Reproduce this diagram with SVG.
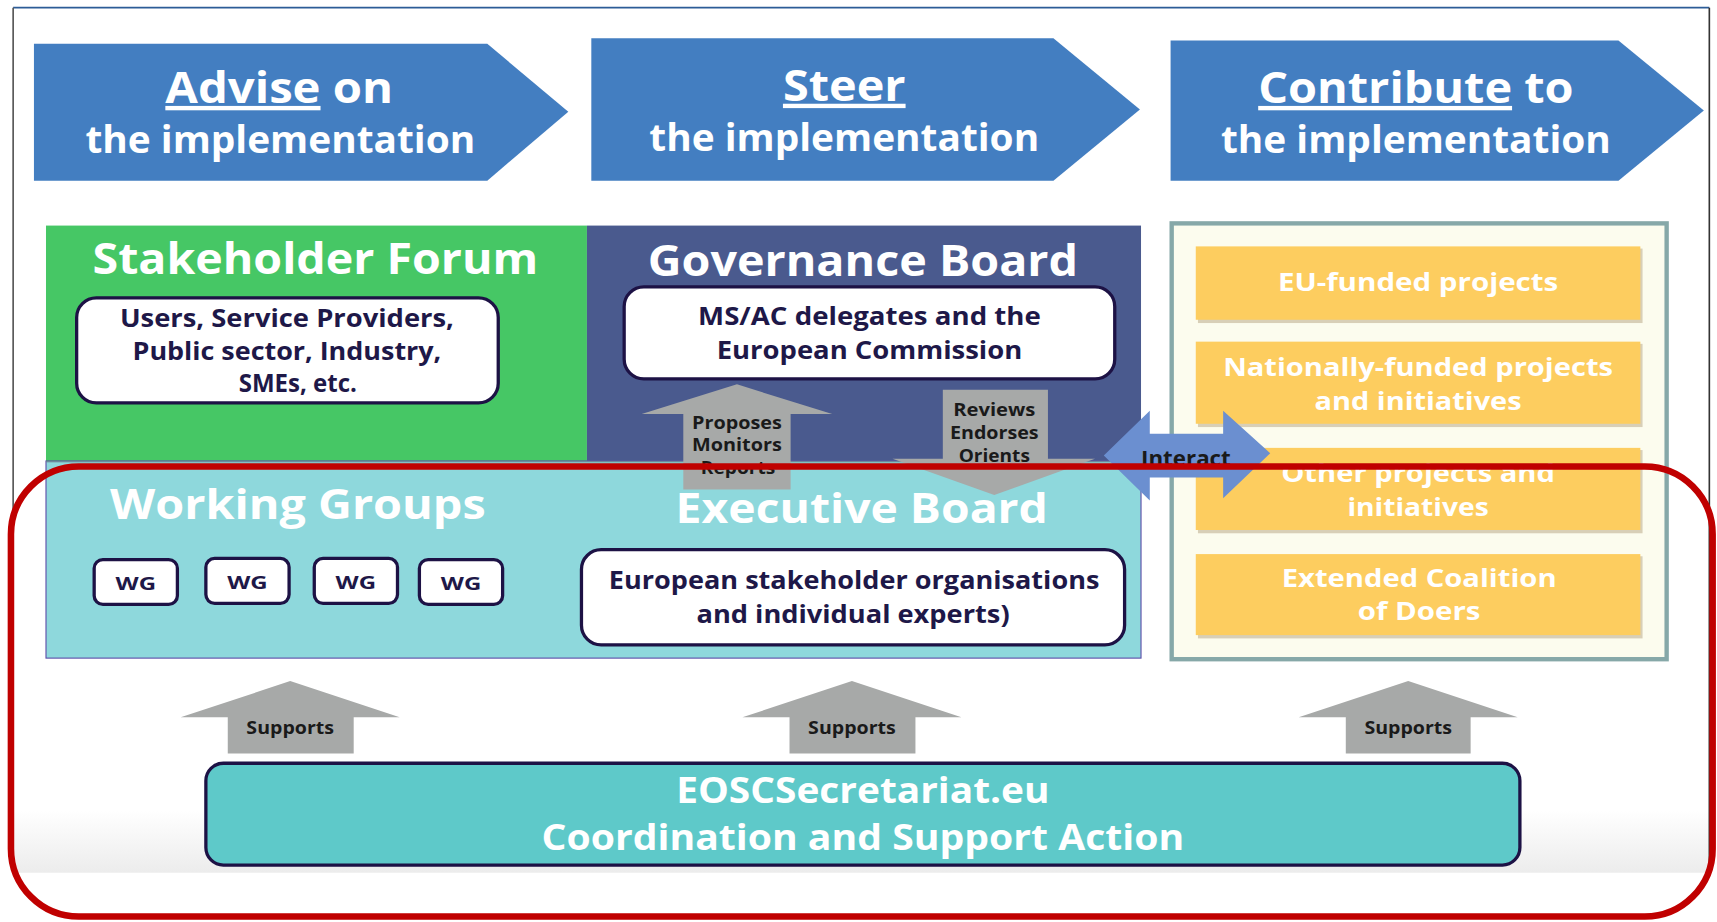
<svg xmlns="http://www.w3.org/2000/svg" width="1717" height="922" viewBox="0 0 1717 922">
<defs>
<style>
.ttl{font-family:"Open Sans","Noto Sans",sans-serif;font-weight:bold;fill:#fff;text-anchor:middle}
.dk{font-family:"Open Sans","Noto Sans",sans-serif;font-weight:bold;fill:#1e1848;text-anchor:middle}
.bk{font-family:"Open Sans","Noto Sans",sans-serif;font-weight:bold;fill:#1a1a1a;text-anchor:middle}
.wbox{fill:#fff;stroke:#1d1245;stroke-width:3}
.ybox{fill:#fdcd5f}
.ysh{fill:#b9a98a;opacity:0.55}
.blue{fill:#437ec1}
.gray{fill:#a7a9a8}
</style>
<linearGradient id="bot" x1="0" y1="0" x2="0" y2="1">
<stop offset="0" stop-color="#ffffff"/>
<stop offset="1" stop-color="#ececec"/>
</linearGradient>
</defs>
<rect width="1717" height="922" fill="#fff"/>
<g transform="scale(1.09503)">
<g id="frame">
<rect x="12" y="740" width="1549" height="57" fill="url(#bot)"/>
<line x1="12" y1="7" x2="1561" y2="7" stroke="#2c5c97" stroke-width="1.5"/>
<line x1="12" y1="7" x2="12" y2="797" stroke="#555" stroke-width="1.5"/>
<line x1="1561" y1="7" x2="1561" y2="797" stroke="#333" stroke-width="1.5"/>
</g>
<g id="advise">
<polygon class="blue" points="31,40 445,40 519,102 445,165 31,165"/>
<text class="ttl" x="255" y="94" font-size="40" textLength="208" lengthAdjust="spacingAndGlyphs"><tspan text-decoration="underline">Advise</tspan> on</text>
<text class="ttl" x="256" y="140" font-size="34" textLength="356" lengthAdjust="spacingAndGlyphs">the implementation</text>
</g>
<g id="steer">
<polygon class="blue" points="540,35 962,35 1041,100 962,165 540,165"/>
<text class="ttl" x="771" y="92" font-size="40" textLength="112" lengthAdjust="spacingAndGlyphs" text-decoration="underline">Steer</text>
<text class="ttl" x="771" y="138" font-size="34" textLength="356" lengthAdjust="spacingAndGlyphs">the implementation</text>
</g>
<g id="contribute">
<polygon class="blue" points="1069,37 1478,37 1556,101 1478,165 1069,165"/>
<text class="ttl" x="1293" y="94" font-size="40" textLength="288" lengthAdjust="spacingAndGlyphs"><tspan text-decoration="underline">Contribute</tspan> to</text>
<text class="ttl" x="1293" y="140" font-size="34" textLength="356" lengthAdjust="spacingAndGlyphs">the implementation</text>
</g>
<g id="stakeholder-forum">
<rect x="42" y="206" width="494" height="216" fill="#46c765"/>
<text class="ttl" x="288" y="250" font-size="40" textLength="407" lengthAdjust="spacingAndGlyphs">Stakeholder Forum</text>
<rect class="wbox" x="70" y="272" width="385" height="96" rx="18"/>
<text class="dk" x="262" y="299" font-size="22" textLength="305" lengthAdjust="spacingAndGlyphs">Users, Service Providers,</text>
<text class="dk" x="262" y="329" font-size="22" textLength="282" lengthAdjust="spacingAndGlyphs">Public sector, Industry,</text>
<text class="dk" x="272" y="358" font-size="22" textLength="108" lengthAdjust="spacingAndGlyphs">SMEs, etc.</text>
</g>
<g id="governance-board">
<rect x="536" y="206" width="506" height="216" fill="#4a5a8e"/>
<text class="ttl" x="788" y="252" font-size="40" textLength="393" lengthAdjust="spacingAndGlyphs">Governance Board</text>
<rect class="wbox" x="570" y="262" width="448" height="84" rx="18"/>
<text class="dk" x="794" y="297" font-size="22" textLength="313" lengthAdjust="spacingAndGlyphs">MS/AC delegates and the</text>
<text class="dk" x="794" y="328" font-size="22" textLength="279" lengthAdjust="spacingAndGlyphs">European Commission</text>
</g>
<g id="working-groups">
<rect x="42" y="421" width="1000" height="180" fill="#8ed8dc" stroke="#5b4aa8" stroke-width="1"/>
<line x1="42" y1="421.5" x2="1042" y2="421.5" stroke="#6a8a8a" stroke-width="1.5" opacity="0.6"/>
<text class="ttl" x="272" y="474" font-size="38" textLength="343" lengthAdjust="spacingAndGlyphs">Working Groups</text>
<rect class="wbox" x="86" y="511" width="76" height="41" rx="8"/>
<rect class="wbox" x="188" y="510" width="76" height="41" rx="8"/>
<rect class="wbox" x="287" y="510" width="76" height="41" rx="8"/>
<rect class="wbox" x="383" y="511" width="76" height="41" rx="8"/>
<text class="dk" x="124" y="539" font-size="17" textLength="37" lengthAdjust="spacingAndGlyphs">WG</text>
<text class="dk" x="226" y="538" font-size="17" textLength="37" lengthAdjust="spacingAndGlyphs">WG</text>
<text class="dk" x="325" y="538" font-size="17" textLength="37" lengthAdjust="spacingAndGlyphs">WG</text>
<text class="dk" x="421" y="539" font-size="17" textLength="37" lengthAdjust="spacingAndGlyphs">WG</text>
</g>
<g id="executive-board">
<text class="ttl" x="787" y="478" font-size="38" textLength="340" lengthAdjust="spacingAndGlyphs">Executive Board</text>
<rect class="wbox" x="531" y="502" width="496" height="87" rx="18"/>
<text class="dk" x="780" y="538" font-size="22" textLength="448" lengthAdjust="spacingAndGlyphs">European stakeholder organisations</text>
<text class="dk" x="779" y="569" font-size="22" textLength="286" lengthAdjust="spacingAndGlyphs">and individual experts)</text>
</g>
<g id="contributors">
<rect x="1070" y="204" width="452" height="398" fill="#fcfcee" stroke="#86a8a8" stroke-width="4"/>
<rect class="ysh" x="1094" y="227" width="406" height="68"/>
<rect class="ybox" x="1092" y="225" width="406" height="67"/>
<rect class="ysh" x="1094" y="314" width="406" height="76"/>
<rect class="ybox" x="1092" y="312" width="406" height="75"/>
<rect class="ysh" x="1094" y="411" width="406" height="76"/>
<rect class="ybox" x="1092" y="409" width="406" height="75"/>
<rect class="ysh" x="1094" y="508" width="406" height="75"/>
<rect class="ybox" x="1092" y="506" width="406" height="74"/>
<text class="ttl" x="1295" y="266" font-size="23" textLength="256" lengthAdjust="spacingAndGlyphs">EU-funded projects</text>
<text class="ttl" x="1295" y="343" font-size="23" textLength="356" lengthAdjust="spacingAndGlyphs">Nationally-funded projects</text>
<text class="ttl" x="1295" y="374" font-size="23" textLength="189" lengthAdjust="spacingAndGlyphs">and initiatives</text>
<text class="ttl" x="1295" y="440" font-size="23" textLength="250" lengthAdjust="spacingAndGlyphs">Other projects and</text>
<text class="ttl" x="1295" y="471" font-size="23" textLength="129" lengthAdjust="spacingAndGlyphs">initiatives</text>
<text class="ttl" x="1296" y="536" font-size="23" textLength="251" lengthAdjust="spacingAndGlyphs">Extended Coalition</text>
<text class="ttl" x="1296" y="566" font-size="23" textLength="112" lengthAdjust="spacingAndGlyphs">of Doers</text>
</g>
<g id="eosc-secretariat">
<rect x="188" y="697" width="1200" height="93" rx="16" fill="#5ec9c9" stroke="#1d1245" stroke-width="3"/>
<text class="ttl" x="788" y="733" font-size="32" textLength="341" lengthAdjust="spacingAndGlyphs">EOSCSecretariat.eu</text>
<text class="ttl" x="788" y="776" font-size="32" textLength="587" lengthAdjust="spacingAndGlyphs">Coordination and Support Action</text>
</g>
<g id="connectors">
<polygon class="gray" points="624,447 624,378 586,378 673,351 760,378 722,378 722,447"/>
<text class="bk" x="673" y="392" font-size="17" textLength="82" lengthAdjust="spacingAndGlyphs">Proposes</text>
<text class="bk" x="673" y="412" font-size="17" textLength="82" lengthAdjust="spacingAndGlyphs">Monitors</text>
<text class="bk" x="674" y="433" font-size="17" textLength="68" lengthAdjust="spacingAndGlyphs">Reports</text>
<polygon class="gray" points="861,356 957,356 957,419 1000,419 908,452 815,419 861,419"/>
<text class="bk" x="908" y="380" font-size="17" textLength="75" lengthAdjust="spacingAndGlyphs">Reviews</text>
<text class="bk" x="908" y="401" font-size="17" textLength="81" lengthAdjust="spacingAndGlyphs">Endorses</text>
<text class="bk" x="908" y="422" font-size="17" textLength="65" lengthAdjust="spacingAndGlyphs">Orients</text>
<polygon fill="#6b8fd0" points="1008,416 1050,375 1050,396 1117,396 1117,375 1160,414 1117,455 1117,436 1050,436 1050,457"/>
<text class="bk" x="1083" y="426" font-size="19" textLength="82" lengthAdjust="spacingAndGlyphs">Interact</text>
<polygon class="gray" points="208,688 208,655 165,655 265,622 365,655 323,655 323,688"/>
<text class="bk" x="265" y="670" font-size="16" textLength="80" lengthAdjust="spacingAndGlyphs">Supports</text>
<polygon class="gray" points="721,688 721,655 678,655 778,622 878,655 836,655 836,688"/>
<text class="bk" x="778" y="670" font-size="16" textLength="80" lengthAdjust="spacingAndGlyphs">Supports</text>
<polygon class="gray" points="1229,688 1229,655 1186,655 1286,622 1386,655 1343,655 1343,688"/>
<text class="bk" x="1286" y="670" font-size="16" textLength="80" lengthAdjust="spacingAndGlyphs">Supports</text>
</g>
<g id="highlight">
<rect x="10" y="426" width="1554" height="411" rx="62" fill="none" stroke="#c00000" stroke-width="6"/>
</g>
</g>
</svg>
